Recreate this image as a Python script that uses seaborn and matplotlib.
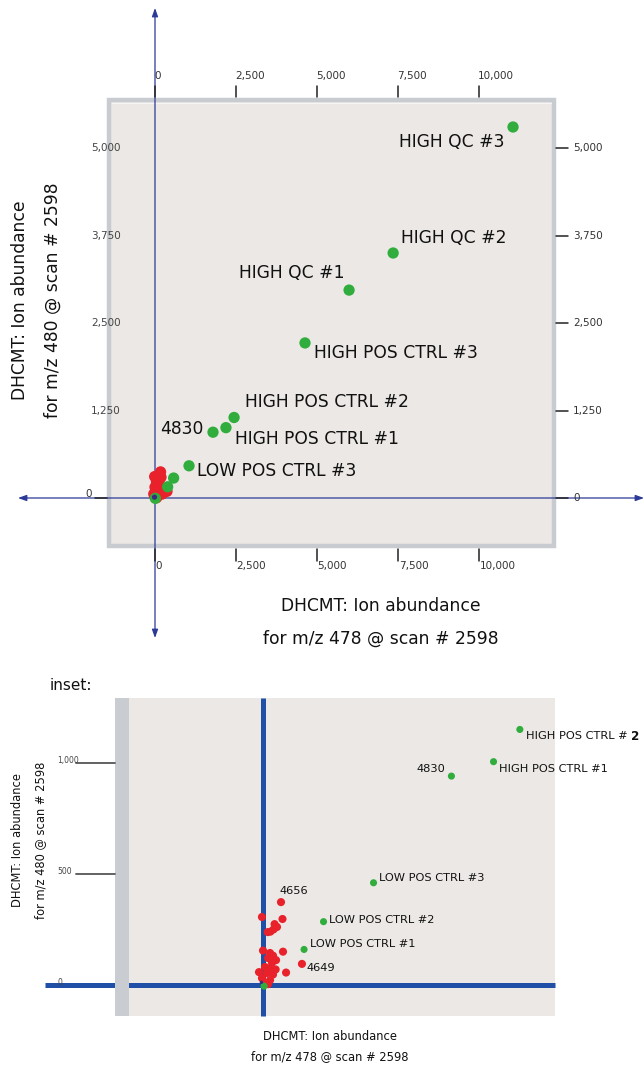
"""DHCMT ion abundance scatter (m/z 478 vs m/z 480) with an inset of the low range."""

import numpy as np
import pandas as pd
import matplotlib
matplotlib.use('Agg')
import matplotlib.pyplot as plt
from matplotlib.patches import Rectangle
import seaborn as sns

# Control / QC samples (green)
ctrl_names = ['HIGH QC #3', 'HIGH QC #2', 'HIGH QC #1', 'HIGH POS CTRL #3',
              'HIGH POS CTRL #2', 'HIGH POS CTRL #1', '4830', 'LOW POS CTRL #3',
              'LOW POS CTRL #2', 'LOW POS CTRL #1', '']
ctrl_x = [11050, 7350, 5990, 4630, 2440, 2190, 1790, 1050, 575, 390, 10]
ctrl_y = [5300, 3500, 2970, 2215, 1150, 1005, 940, 460, 285, 160, -5]

# Other samples (red)
samp_names = ['4656', '4649'] + [''] * 25
samp_x = [171, 370, -10, 185, 110, 133, 100, 70, 45, 0, 190, 67, 95, 48, 124,
          86, 19, 219, -38, 38, 95, -10, 67, 19, 48, 120, 60]
samp_y = [373, 95, 306, 297, 274, 261, 250, 240, 238, 155, 150, 144, 132, 121,
          112, 100, 81, 56, 58, 54, 47, 31, 22, 9, 4, 70, 75]

# Blank (small dark dot at the origin)
blank_x = [-15]
blank_y = [12]

x_ticks = [0, 2500, 5000, 7500, 10000]
y_ticks = [0, 1250, 2500, 3750, 5000]
inset_y_ticks = [0, 500, 1000]

df = pd.concat([
    pd.DataFrame({'x': samp_x, 'y': samp_y, 'name': samp_names, 'group': 'sample'}),
    pd.DataFrame({'x': ctrl_x, 'y': ctrl_y, 'name': ctrl_names, 'group': 'control'}),
], ignore_index=True)
blank = pd.DataFrame({'x': blank_x, 'y': blank_y})

palette = {'sample': '#e8212b', 'control': '#30ad3c'}
BLANK_COLOR = '#3b2a80'
NAVY = '#2b3a98'
BLUE = '#1f4fa6'

sns.set_style('white')
plt.rcParams['font.family'] = ['DejaVu Sans']

W, H = 644, 1066
fig = plt.figure(figsize=(W / 100, H / 100), dpi=100)


def add_px_axes(top, bottom):
    """Axes covering the full width between pixel rows top..bottom."""
    return fig.add_axes([0, 1 - bottom / H, 1, (bottom - top) / H])


# ---------------- main panel ----------------
ax = add_px_axes(0, 660)
mx = lambda px: (px - 155) * 2500 / 81
my = lambda py: (498 - py) * 1250 / 87.5
ax.set_xlim(mx(0), mx(W))
ax.set_ylim(my(660), my(0))
ax.axis('off')

ax.add_patch(Rectangle((mx(109), my(546)), mx(554) - mx(109), my(100) - my(546),
                       facecolor='#ebe8e5', edgecolor='#c8ccd0', lw=3.2, zorder=1))
ax.plot([mx(112), mx(551)], [my(102.5), my(102.5)], color='#f6f6f6', lw=0.8, zorder=1.5)

# axis lines with arrow heads
ax.annotate('', xy=(mx(644), 0), xytext=(mx(18), 0),
            arrowprops=dict(arrowstyle='<|-|>,head_length=0.5,head_width=0.18',
                            color=NAVY, lw=0.9, shrinkA=0, shrinkB=0), zorder=2)
ax.annotate('', xy=(0, my(8)), xytext=(0, my(638)),
            arrowprops=dict(arrowstyle='<|-|>,head_length=0.5,head_width=0.18',
                            color=NAVY, lw=0.9, shrinkA=0, shrinkB=0), zorder=2)

# ticks around the box
for v in x_ticks:
    ax.plot([v, v], [my(86), my(97)], color='#222', lw=1.1, zorder=3)
    ax.text(v - 30, my(76), f'{v:,}', ha='left', va='center', fontsize=7.5,
            color='#333', zorder=3)
    ax.plot([v, v], [my(549), my(561)], color='#222', lw=1.1, zorder=3)
    ax.text(v + 20, my(566), f'{v:,}', ha='left', va='center', fontsize=7.5,
            color='#333', zorder=3)
for v in y_ticks:
    ax.plot([mx(556), mx(568)], [v, v], color='#222', lw=1.1, zorder=3)
    ax.text(mx(573), v, f'{v:,}', ha='left', va='center', fontsize=7.5,
            color='#333', zorder=3)
    if v == 0:
        ax.plot([mx(95), mx(107)], [v, v], color='#222', lw=1.1, zorder=3)
        ax.text(mx(92), v + 60, '0', ha='right', va='center', fontsize=7.5,
                color='#333', zorder=3)
    else:
        ax.text(mx(121), v, f'{v:,}', ha='right', va='center', fontsize=7.5,
                color='#444', zorder=3)

sns.scatterplot(data=df, x='x', y='y', hue='group', palette=palette, s=66,
                edgecolor='none', legend=False, ax=ax, zorder=5)
sns.scatterplot(data=blank, x='x', y='y', color=BLANK_COLOR, s=14,
                edgecolor='none', legend=False, ax=ax, zorder=5)

main_offsets = {
    'HIGH QC #3': (-6, -11, 'right'), 'HIGH QC #2': (6, 11, 'left'),
    'HIGH QC #1': (-3, 12, 'right'), 'HIGH POS CTRL #3': (6.5, -7, 'left'),
    'HIGH POS CTRL #2': (8, 11, 'left'), 'HIGH POS CTRL #1': (6.5, -8.5, 'left'),
    '4830': (-7, 2, 'right'), 'LOW POS CTRL #3': (6, -3.5, 'left'),
}
for _, r in df.iterrows():
    if r['name'] in main_offsets:
        dx, dy, ha = main_offsets[r['name']]
        ax.annotate(r['name'], (r['x'], r['y']), xytext=(dx, dy),
                    textcoords='offset points', ha=ha, va='center',
                    fontsize=12.3, color='#111', zorder=6)

ax.text(mx(381), my(606), 'DHCMT: Ion abundance', ha='center', va='center',
        fontsize=12.3, color='#111')
ax.text(mx(381), my(639), 'for m/z 478 @ scan # 2598', ha='center', va='center',
        fontsize=12.3, color='#111')
ax.text(mx(20), my(300), 'DHCMT: Ion abundance', ha='center', va='center',
        fontsize=12.3, color='#111', rotation=90)
ax.text(mx(53), my(300), 'for m/z 480 @ scan # 2598', ha='center', va='center',
        fontsize=12.3, color='#111', rotation=90)

# ---------------- inset ----------------
ax2 = add_px_axes(670, H)
ix = lambda px: (px - 263) * 9.5
iy = lambda py: (985 - py) * 4.5
ax2.set_xlim(ix(0), ix(W))
ax2.set_ylim(iy(H), iy(670))
ax2.axis('off')

ax2.text(ix(50), iy(686), 'inset:', ha='left', va='center', fontsize=11, color='#111')
ax2.add_patch(Rectangle((ix(129), iy(1016)), ix(555) - ix(129), iy(698) - iy(1016),
                        facecolor='#ebe8e5', edgecolor='none', zorder=1))
ax2.plot([ix(45), ix(555)], [0, 0], color=BLUE, lw=3.6, solid_capstyle='butt', zorder=2)
ax2.plot([0, 0], [iy(698), iy(1016)], color=BLUE, lw=3.6, solid_capstyle='butt', zorder=2)
ax2.add_patch(Rectangle((ix(115), iy(1016)), ix(129) - ix(115), iy(698) - iy(1016),
                        facecolor='#c9cdd1', edgecolor='none', zorder=3))

for v in inset_y_ticks:
    if v:
        ax2.plot([ix(76), ix(115)], [v, v], color='#555', lw=1.3, zorder=3)
    ax2.text(ix(57), v + 10, f'{v:,}', ha='left', va='center', fontsize=5.5,
             color='#444', zorder=4)

samp = df[df['group'] == 'sample']
ctrl = df[df['group'] == 'control']
sns.scatterplot(data=samp, x='x', y='y', color=palette['sample'], s=34,
                edgecolor='none', legend=False, ax=ax2, zorder=5)
sns.scatterplot(data=ctrl, x='x', y='y', color=palette['control'], s=26,
                edgecolor='none', legend=False, ax=ax2, zorder=5)
sns.scatterplot(data=blank, x='x', y='y', color=BLANK_COLOR, s=6,
                edgecolor='none', legend=False, ax=ax2, zorder=5)

inset_offsets = {
    'HIGH POS CTRL #2': (4.5, -5, 'left'), 'HIGH POS CTRL #1': (4.3, -5, 'left'),
    '4830': (-4.3, 5, 'right'), 'LOW POS CTRL #3': (4.3, 3.6, 'left'),
    'LOW POS CTRL #2': (4.3, 1.4, 'left'), 'LOW POS CTRL #1': (4.3, 3.6, 'left'),
    '4656': (-1.4, 8, 'left'), '4649': (3.6, -2.9, 'left'),
}
for _, r in df.iterrows():
    if r['name'] in inset_offsets:
        dx, dy, ha = inset_offsets[r['name']]
        label = 'HIGH POS CTRL # ' if r['name'] == 'HIGH POS CTRL #2' else r['name']
        t = ax2.annotate(label, (r['x'], r['y']), xytext=(dx, dy),
                         textcoords='offset points', ha=ha, va='center',
                         fontsize=8.2, color='#111', zorder=6, annotation_clip=False)
        if r['name'] == 'HIGH POS CTRL #2':
            ax2.annotate('2', xy=(1, 0.5), xycoords=t, ha='left', va='center',
                         fontsize=8.6, fontweight='bold', color='#111')

ax2.text(ix(330), iy(1037), 'DHCMT: Ion abundance', ha='center', va='center',
         fontsize=8.3, color='#111')
ax2.text(ix(330), iy(1057), 'for m/z 478 @ scan # 2598', ha='center', va='center',
         fontsize=8.3, color='#111')
ax2.text(ix(18), iy(840), 'DHCMT: Ion abundance', ha='center', va='center',
         fontsize=8.3, color='#111', rotation=90)
ax2.text(ix(41), iy(840), 'for m/z 480 @ scan # 2598', ha='center', va='center',
         fontsize=8.3, color='#111', rotation=90)

plt.savefig('out.png', dpi=100)
print('Saved: out.png')
